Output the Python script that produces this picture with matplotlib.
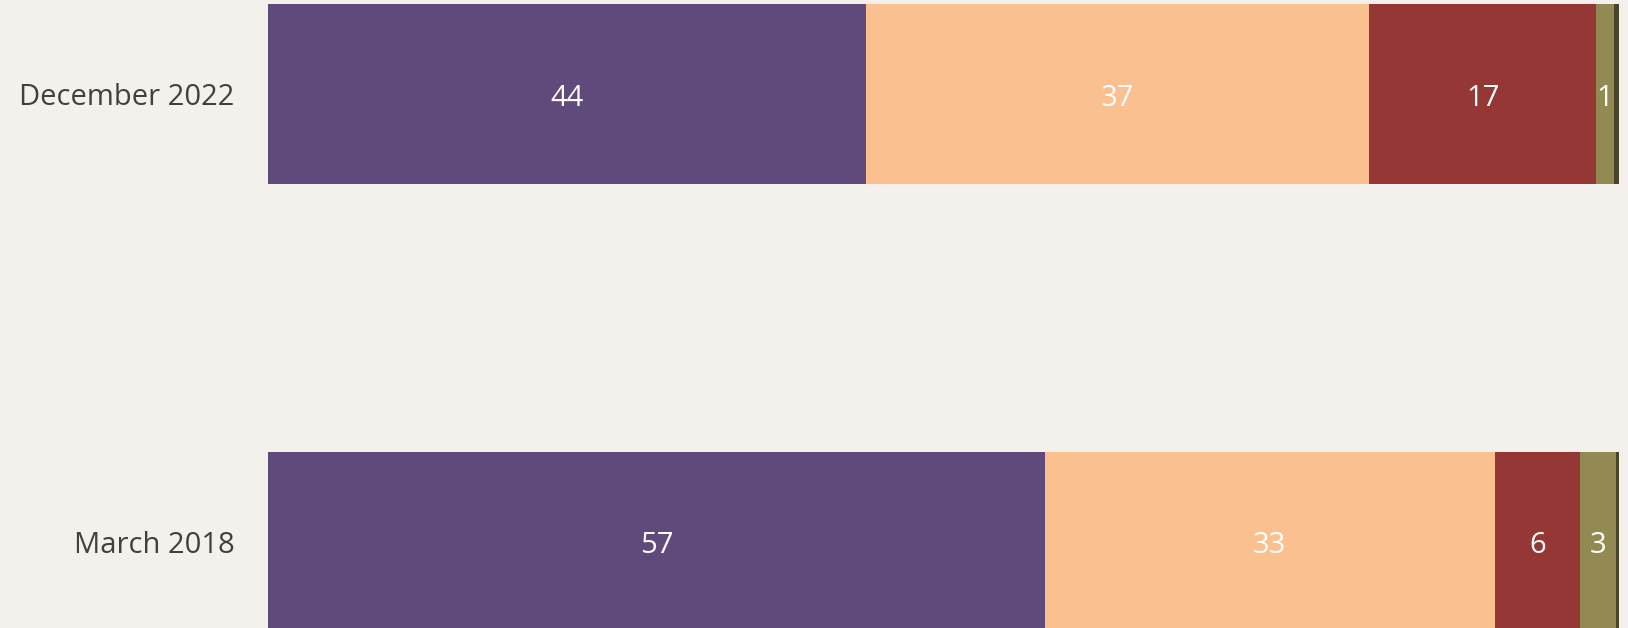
import matplotlib
matplotlib.use('Agg')
import matplotlib.pyplot as plt
from matplotlib import transforms

periods = ['December 2022', 'March 2018']
# segment shares per period (left to right); last segment is a thin unlabelled sliver
series = [
    [44.3, 57.5],
    [37.2, 33.3],
    [16.8, 6.3],
    [1.3, 2.7],
    [0.4, 0.3],
]
labels = [
    ['44', '57'],
    ['37', '33'],
    ['17', '6'],
    ['1', '3'],
    ['', ''],
]
colors = ['#604A7B', '#FAC090', '#953735', '#938953', '#4A452A']
bg = '#F4F1EC'

plt.rcParams['font.family'] = ['Open Sans', 'DejaVu Sans']

fig = plt.figure(figsize=(16.28, 6.28), dpi=100, facecolor=bg)
ax = fig.add_axes([268 / 1628, 0, (1619 - 268) / 1628, 1])
ax.set_facecolor(bg)

# nudge value labels down a touch so the digits sit in the bar middle
shift = transforms.ScaledTranslation(0, -3 / 72, fig.dpi_scale_trans)

ypos = list(range(len(periods)))
left = [0.0] * len(periods)
for vals, labs, col in zip(series, labels, colors):
    bars = ax.barh(ypos, vals, left=left, height=0.4, color=col, edgecolor='none')
    for b, lab in zip(bars, labs):
        if lab:
            ax.text(b.get_x() + b.get_width() / 2, b.get_y() + b.get_height() / 2, lab,
                    ha='center', va='center', color='white', fontsize=21,
                    transform=ax.transData + shift)
    left = [l + v for l, v in zip(left, vals)]

ax.set_xlim(0, 100)
ax.set_ylim(1.193, -0.21)
ax.set_yticks(ypos)
ax.set_yticklabels(periods, fontsize=21, color='#404040')
ax.tick_params(axis='y', length=0, pad=24)
ax.set_xticks([])
for s in ax.spines.values():
    s.set_visible(False)

fig.savefig('out.png', dpi=100, facecolor=bg)
